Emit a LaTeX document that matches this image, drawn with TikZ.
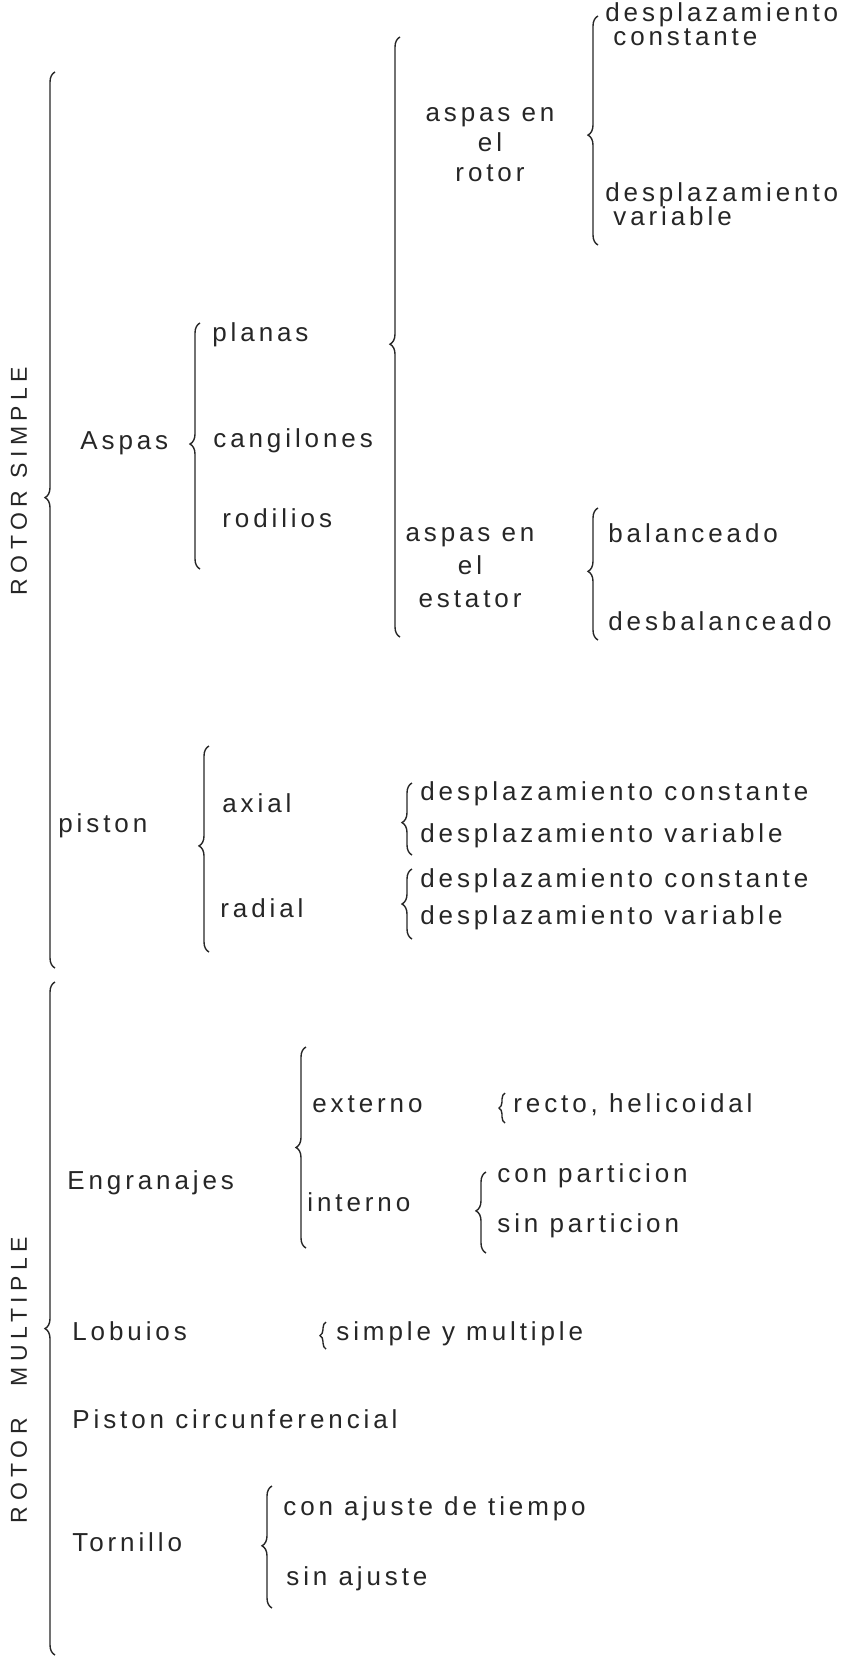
\documentclass[tikz,border=0pt]{standalone}
\usepackage{fontspec}
\setmainfont{Liberation Sans}
\newfontfamily\letra{Liberation Sans}[LetterSpace=15]
\newfontfamily\letrav{Liberation Sans}[LetterSpace=24]
\usetikzlibrary{decorations.pathreplacing}

\begin{document}
\begin{tikzpicture}[x=0.5pt, y=-0.5pt,
    every node/.style={inner sep=0pt, anchor=mid west, text=black!85,
        font=\letra\fontsize{13}{15}\selectfont},
    llave/.style={decorate, decoration={brace, amplitude=5pt, aspect=#1},
        line width=0.7pt, draw=black!85},
    titulo/.style={rotate=90, anchor=center, font=\letrav\fontsize{11.5}{13}\selectfont}]
\useasboundingbox (0,0) rectangle (861,1659);

% rotor simple
\node[titulo] (simple) at (19,481) {ROTOR SIMPLE};
\draw[llave=0.525] (55,968) -- (55,72);

\node (aspas) at (80,444) {Aspas};
\draw[llave=0.508] (200,569) -- (200,323);
\node (planas) at (212,336) {planas};
\node (cangilones) at (213,442) {cangilones};
\node (rodilios) at (222,522) {rodilios};

\draw[llave=0.488] (400,637) -- (400,37);
\node[align=center, anchor=center, font=\letra\fontsize{13}{15}\selectfont]
    (enrotor) at (490,145) {aspas en\\el\\rotor};
\draw[llave=0.48] (598,245) -- (598,16);
\node (dcrot) at (605,16) {desplazamiento};
\node (dcrotb) at (613,40) {constante};
\node (dvrot) at (605,196) {desplazamiento};
\node (dvrotb) at (613,220) {variable};

\node[align=center, anchor=center, font=\letra\fontsize{13}{16.5}\selectfont]
    (enestator) at (470,568) {aspas en\\el\\estator};
\draw[llave=0.52] (598,640) -- (598,508);
\node (balanceado) at (608,537) {balanceado};
\node (desbalanceado) at (608,625) {desbalanceado};

\node (piston) at (58,827) {piston};
\draw[llave=0.515] (209,952) -- (209,746);
\node (axial) at (222,807) {axial};
\node (radial) at (220,912) {radial};
\draw[llave=0.45] (412,855) -- (412,783);
\node (axdc) at (420,795) {desplazamiento constante};
\node (axdv) at (420,837) {desplazamiento variable};
\draw[llave=0.5] (412,939) -- (412,869);
\node (radc) at (420,882) {desplazamiento constante};
\node (radv) at (420,919) {desplazamiento variable};

% rotor multiple
\node[titulo] (multiple) at (19,1380) {ROTOR\hspace{16pt}MULTIPLE};
\draw[llave=0.485] (55,1655) -- (55,982);

\node (engranajes) at (67,1184) {Engranajes};
\draw[llave=0.5] (306,1248) -- (306,1047);
\node (externo) at (312,1107) {externo};
\draw[llave=0.5, decoration={amplitude=3pt}] (505,1123) -- (505,1093);
\node (recto) at (513,1107) {recto, helicoidal};
\node (interno) at (307,1206) {interno};
\draw[llave=0.52] (486,1253) -- (486,1172);
\node (conp) at (497,1177) {con particion};
\node (sinp) at (497,1227) {sin particion};

\node (lobulos) at (72,1335) {Lobuios};
\draw[llave=0.5, decoration={amplitude=3pt}] (326,1349) -- (326,1322);
\node (simplemult) at (336,1335) {simple y multiple};

\node (circunf) at (72,1423) {Piston circunferencial};

\node (tornillo) at (72,1546) {Tornillo};
\draw[llave=0.51] (272,1608) -- (272,1486);
\node (conajuste) at (283,1510) {con ajuste de tiempo};
\node (sinajuste) at (286,1580) {sin ajuste};
\end{tikzpicture}
\end{document}
